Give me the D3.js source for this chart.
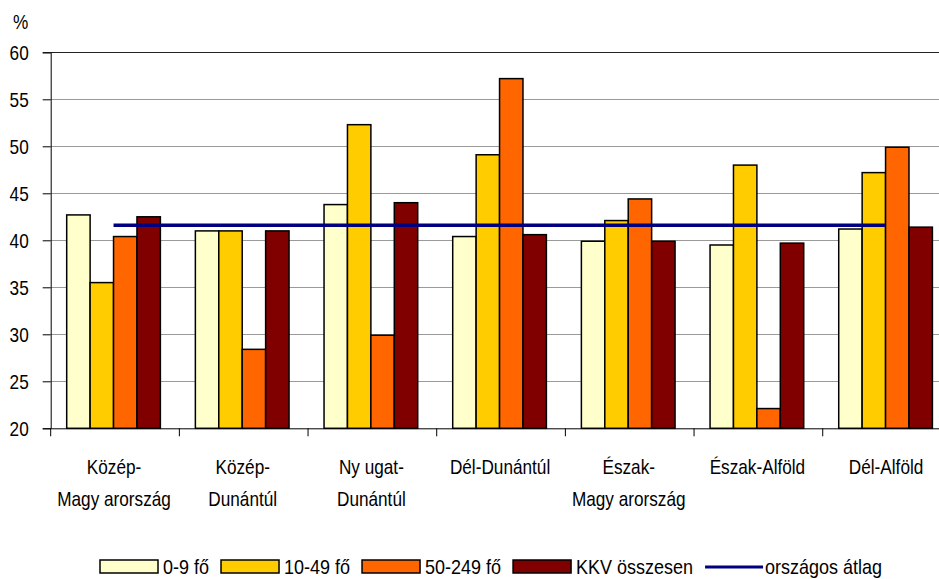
<!DOCTYPE html>
<html>
<head>
<meta charset="utf-8">
<script src="https://cdn.jsdelivr.net/npm/d3@7"></script>
<style>
  html, body { margin: 0; padding: 0; background: #fff; }
  svg { display: block; }
  text { font-family: "Liberation Sans", Arial, sans-serif; fill: #000; }
</style>
</head>
<body>
<svg id="chart" width="939" height="579"></svg>
<script>
// ---- data ----
const categories = [
  ["Közép-", "Magy arország"],
  ["Közép-", "Dunántúl"],
  ["Ny ugat-", "Dunántúl"],
  ["Dél-Dunántúl"],
  ["Észak-", "Magy arország"],
  ["Észak-Alföld"],
  ["Dél-Alföld"]
];
const seriesNames = ["0-9 fő", "10-49 fő", "50-249 fő", "KKV összesen"];
const seriesColors = ["#FFFFCC", "#FFCC00", "#FF6600", "#800000"];
const micro  = [42.7, 41.0, 43.8, 40.4, 39.9, 39.5, 41.2];   // 0-9 fő
const small  = [35.5, 41.0, 52.3, 49.1, 42.1, 48.0, 47.2];   // 10-49 fő
const medium = [40.4, 28.4, 29.9, 57.2, 44.4, 22.1, 49.9];   // 50-249 fő
const kkv    = [42.5, 41.0, 44.0, 40.6, 39.9, 39.7, 41.4];   // KKV összesen
const average = [41.6, 41.6, 41.6, 41.6, 41.6, 41.6, 41.6];  // országos átlag
const avgName = "országos átlag";
const avgColor = "#000080";
const yTicks = [20, 25, 30, 35, 40, 45, 50, 55, 60];
const yUnit = "%";

// ---- layout ----
const SX = 0.86;      // horizontal text compression (narrow look)
const FS = 20;
const svg = d3.select("#chart");
const pLeft = 50.7, pRight = 951.4, pTop = 52.3, pBottom = 428.3;
const catIdx = d3.range(categories.length);
const x = d3.scaleBand().domain(catIdx).range([pLeft, pRight]).padding(0);
const cw = x.bandwidth();
const xs = d3.scaleBand().domain(d3.range(seriesNames.length)).range([16, cw - 19]).padding(0);
const y = d3.scaleLinear().domain([20, 60]).range([pBottom, pTop]);

function addText(parent, tx, ty, str, anchor, fs, sx) {
  return parent.append("text")
    .attr("transform", `translate(${tx},${ty}) scale(${sx || SX},1)`)
    .attr("text-anchor", anchor || "start")
    .attr("font-size", fs || FS)
    .text(str);
}

// gridlines
svg.append("g").selectAll("line").data(yTicks.filter(t => t > 20)).join("line")
  .attr("x1", pLeft).attr("x2", pRight)
  .attr("y1", d => Math.round(y(d)) + 0.5).attr("y2", d => Math.round(y(d)) + 0.5)
  .attr("stroke", d => d === 60 ? "#222" : "#9a9a9a").attr("stroke-width", 1);

// y axis
const yAxis = d3.axisLeft(y).tickValues(yTicks).tickSize(8).tickPadding(14).tickFormat(d3.format("d"));
const gy = svg.append("g").attr("transform", `translate(${pLeft},0)`).call(yAxis);
gy.attr("font-family", null).attr("font-size", null);
gy.select(".domain").attr("stroke", "#000");
gy.selectAll(".tick line").attr("stroke", "#000");
gy.selectAll(".tick text").attr("font-size", FS).attr("dy", "0.36em")
  .attr("x", -22 / SX).attr("transform", `scale(${SX},1)`);

addText(svg, 13, 29, yUnit);

// bars
const allSeries = [micro, small, medium, kkv];
allSeries.forEach((vals, s) => {
  svg.append("g").selectAll("rect").data(vals).join("rect")
    .attr("x", (d, i) => x(i) + xs(s))
    .attr("y", d => y(d))
    .attr("width", xs.bandwidth())
    .attr("height", d => y(20) - y(d))
    .attr("fill", seriesColors[s])
    .attr("stroke", "#000").attr("stroke-width", 1.5);
});

// x axis
const xAxis = d3.axisBottom(x).tickSize(0).tickFormat("");
const gx = svg.append("g").attr("transform", `translate(0,${pBottom})`).call(xAxis);
gx.select(".domain").attr("stroke", "#000");
svg.append("g").selectAll("line").data(d3.range(categories.length + 1)).join("line")
  .attr("x1", i => pLeft + i * cw).attr("x2", i => pLeft + i * cw)
  .attr("y1", pBottom).attr("y2", pBottom + 8).attr("stroke", "#000");

// category labels
const gl = svg.append("g");
categories.forEach((lines, i) => {
  lines.forEach((ln, k) => addText(gl, x(i) + cw / 2 - 1, 474 + k * 32, ln, "middle"));
});

// average line
const line = d3.line().x((d, i) => x(i) + xs(0) + (xs.range()[1] - xs.range()[0]) / 2).y(d => y(d));
svg.append("path").datum(average).attr("d", line)
  .attr("fill", "none").attr("stroke", avgColor).attr("stroke-width", 3.5);

// legend
const lg = svg.append("g");
const LSX = 0.9;
let lx = 100;
const ly = 560, lh = 13, sw = 58, lb = 574, lfs = 20;
seriesNames.forEach((n, s) => {
  lg.append("rect").attr("x", lx).attr("y", ly).attr("width", sw).attr("height", lh)
    .attr("fill", seriesColors[s]).attr("stroke", "#000").attr("stroke-width", 1.5);
  const t = addText(lg, lx + sw + 5, lb, n, "start", lfs, LSX);
  lx += sw + 5 + t.node().getComputedTextLength() * LSX + 12;
});
lg.append("line").attr("x1", lx).attr("x2", lx + 58).attr("y1", 567).attr("y2", 567)
  .attr("stroke", avgColor).attr("stroke-width", 3);
addText(lg, lx + 60, lb, avgName, "start", lfs, LSX);
</script>
</body>
</html>
